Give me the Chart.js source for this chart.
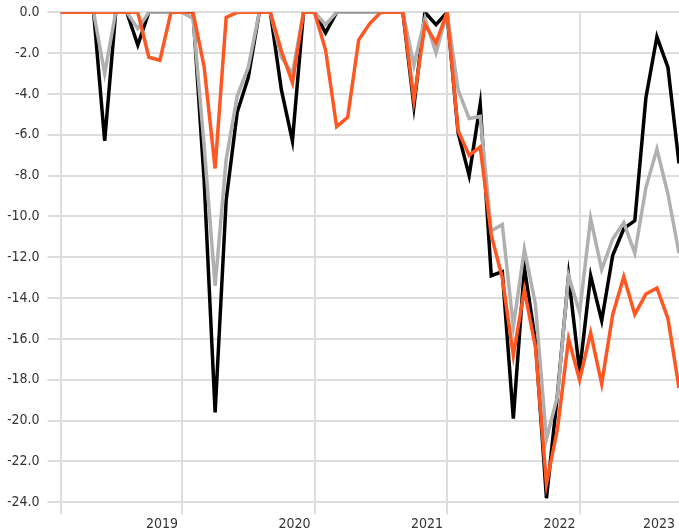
<!DOCTYPE html>
<html>
<head>
<meta charset="utf-8">
<script src="https://cdn.jsdelivr.net/npm/chart.js@4.4.0/dist/chart.umd.min.js"></script>
<style>
  html, body { margin: 0; padding: 0; background: #fff; overflow: hidden; }
</style>
</head>
<body>
<canvas id="chart" width="679" height="531"></canvas>
<script>
// Monthly values (57 points)
const seriesBlack = [
    0, 0, 0, 0, -6.3, 0, 0, -1.6, 0, 0, 0, 0,
    0, -8.2, -19.6, -9.2, -4.9, -3.2, 0, 0, -3.8, -6.3, 0, 0,
    -1.0, 0, 0, 0, 0, 0, 0, 0, -4.6, 0, -0.6, 0,
    -5.9, -8.0, -4.5, -12.9, -12.7, -19.9, -12.5, -16.1, -23.8, -18.7, -12.9, -17.6,
    -12.9, -15.1, -11.9, -10.6, -10.2, -4.2, -1.2, -2.7, -7.4
];
const seriesGray = [
    0, 0, 0, 0, -3.0, 0, 0, -0.8, 0, 0, 0, 0,
    -0.3, -6.5, -13.4, -7.2, -4.1, -2.7, 0, 0, -2.2, -3.0, 0, 0,
    -0.6, 0, 0, 0, 0, 0, 0, 0, -2.6, -0.3, -2.0, 0,
    -3.8, -5.2, -5.1, -10.7, -10.4, -15.4, -11.6, -14.3, -20.9, -18.8, -12.9, -14.7,
    -10.1, -12.6, -11.1, -10.3, -11.8, -8.6, -6.7, -8.9, -11.8
];
const seriesOrange = [
    0, 0, 0, 0, 0, 0, 0, 0, -2.2, -2.35, 0, 0,
    0, -2.65, -7.65, -0.25, 0, 0, 0, 0, -1.9, -3.45, 0, 0,
    -1.85, -5.6, -5.15, -1.35, -0.55, 0, 0, 0, -4.3, -0.6, -1.5, 0,
    -5.8, -7.0, -6.6, -10.9, -13.0, -16.8, -13.6, -16.4, -23.1, -20.4, -16.0, -18.0,
    -15.7, -18.2, -14.8, -12.95, -14.8, -13.8, -13.5, -15.0, -18.4
];

// x axis: year labels and the month index they sit at
const yearLabels = ['', '2019', '2020', '2021', '2022', '2023'];
const yearTickIndex = [0, 11, 23, 35, 47, 56];

const FONT = '"DejaVu Sans Condensed", "Liberation Sans Narrow", sans-serif';
const GRID = '#dddddd';

function toPoints(values) {
    return values.map(function(v, i) { return { x: i, y: v }; });
}

function lineSet(values, color) {
    return {
        data: toPoints(values),
        borderColor: color,
        borderWidth: 3.5,
        pointRadius: 0,
        tension: 0,
        fill: false
    };
}

const ctx = document.getElementById('chart').getContext('2d');
new Chart(ctx, {
    type: 'line',
    data: {
        // first dataset is drawn on top
        datasets: [
            lineSet(seriesOrange, '#ff5722'),
            lineSet(seriesGray, '#b0b0b0'),
            lineSet(seriesBlack, '#000000')
        ]
    },
    options: {
        responsive: false,
        animation: false,
        layout: { padding: { top: 12.3, bottom: 0, left: 7.5, right: 0 } },
        plugins: {
            legend: { display: false },
            tooltip: { enabled: false }
        },
        scales: {
            x: {
                type: 'linear',
                min: 0,
                max: seriesBlack.length - 1,
                afterBuildTicks: function(axis) {
                    axis.ticks = yearTickIndex.map(function(v) { return { value: v }; });
                },
                afterFit: function(axis) {
                    axis.height = 28.7;
                    axis.paddingLeft = 0;
                    axis.paddingRight = 0;
                },
                grid: {
                    color: function(c) {
                        return c.tick && c.tick.value === yearTickIndex[yearTickIndex.length - 1] ? 'rgba(0,0,0,0)' : GRID;
                    },
                    lineWidth: 2,
                    tickLength: 12
                },
                border: { color: GRID, width: 2 },
                ticks: {
                    autoSkip: false,
                    maxRotation: 0,
                    align: 'end',
                    labelOffset: -4,
                    padding: 2,
                    color: '#333333',
                    font: { family: FONT, size: 14 },
                    callback: function(value) {
                        const k = yearTickIndex.indexOf(value);
                        return k >= 0 ? yearLabels[k] : '';
                    }
                }
            },
            y: {
                min: -24,
                max: 0,
                afterFit: function(axis) {
                    axis.width = 53;
                    axis.paddingTop = 0;
                    axis.paddingBottom = 0;
                },
                grid: { color: GRID, lineWidth: 2, tickLength: 13 },
                border: { color: GRID, width: 2 },
                ticks: {
                    stepSize: 2,
                    padding: 8,
                    color: '#333333',
                    font: { family: FONT, size: 14 },
                    callback: function(value) { return value.toFixed(1); }
                }
            }
        }
    }
});
</script>
</body>
</html>
